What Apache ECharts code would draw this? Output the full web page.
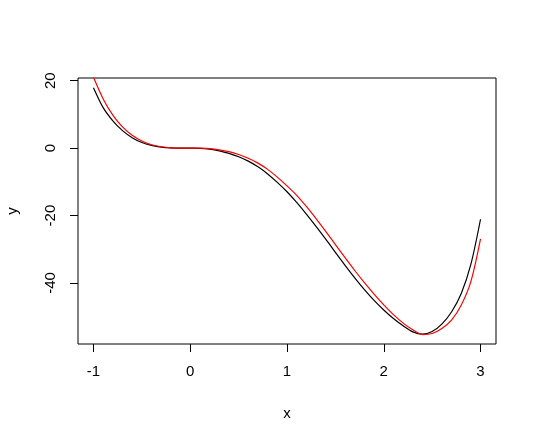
<!DOCTYPE html>
<html>
<head>
<meta charset="utf-8">
<script src="https://cdn.jsdelivr.net/npm/echarts@6/dist/echarts.min.js"></script>
<style>
html,body{margin:0;padding:0;background:#fff;}
#chart{width:537px;height:442px;}
</style>
</head>
<body>
<div id="chart"></div>
<script>
// x positions where the curves were read
var xValues = [-1.0,-0.9,-0.8,-0.7,-0.6,-0.5,-0.4,-0.3,-0.2,-0.1,0.0,0.1,0.2,0.3,0.4,0.5,0.6,0.7,0.8,0.9,1.0,1.1,1.2,1.3,1.4,1.5,1.6,1.7,1.8,1.9,2.0,2.1,2.2,2.3,2.4,2.5,2.6,2.7,2.8,2.9,3.0];
// black curve
var blackY = [17.9,12.0,8.1,5.2,3.1,1.65,0.8,0.3,0.08,0.01,0.0,-0.05,-0.3,-0.8,-1.55,-2.55,-3.85,-5.55,-7.65,-10.15,-12.95,-16.1,-19.55,-23.2,-27.0,-30.9,-34.75,-38.45,-41.95,-45.15,-48.0,-50.55,-52.7,-54.5,-55.2,-54.4,-52.2,-48.6,-43.2,-34.5,-21.1];
// red curve
var redY = [21.0,14.6,9.8,6.3,3.8,2.1,1.0,0.4,0.1,0.02,0.0,-0.02,-0.15,-0.5,-1.05,-1.9,-3.0,-4.45,-6.3,-8.6,-11.2,-14.0,-17.3,-20.9,-24.7,-28.6,-32.5,-36.3,-39.9,-43.3,-46.5,-49.4,-51.9,-53.9,-55.3,-55.0,-53.5,-51.0,-46.6,-39.6,-26.9];
// tick labels
var xTicks = [-1,0,1,2,3];
var yTicks = [-40,-20,0,20];

function pairs(xs, ys){ return xs.map(function(x,i){ return [x, ys[i]]; }); }

var font = 'Liberation Sans, Arial, Helvetica, sans-serif';
var chart = echarts.init(document.getElementById('chart'), null, {renderer:'canvas'});
chart.setOption({
  animation:false,
  backgroundColor:'#ffffff',
  grid:{left:78, right:41, top:78, bottom:98, show:true, borderColor:'#000', borderWidth:1,
        backgroundColor:'transparent', containLabel:false, outerBoundsMode:'none'},
  xAxis:{
    type:'value', min:-1.16, max:3.16,
    name:'x', nameLocation:'middle', nameGap:62,
    nameTextStyle:{fontFamily:font, fontSize:15, color:'#000'},
    axisLine:{show:false, onZero:false},
    splitLine:{show:false},
    axisTick:{show:true, length:8, lineStyle:{color:'#000', width:1}, customValues:xTicks},
    axisLabel:{show:true, customValues:xTicks, margin:20, fontFamily:font, fontSize:15, color:'#000'}
  },
  yAxis:{
    type:'value', min:-58.1, max:20.8,
    name:'y', nameLocation:'middle', nameGap:58, nameRotate:90,
    nameTextStyle:{fontFamily:font, fontSize:15, color:'#000'},
    axisLine:{show:false, onZero:false},
    splitLine:{show:false},
    axisTick:{show:true, length:8, lineStyle:{color:'#000', width:1}, customValues:yTicks},
    axisLabel:{show:true, customValues:yTicks, rotate:90, margin:20, fontFamily:font, fontSize:15, color:'#000'}
  },
  series:[
    {type:'line', data:pairs(xValues, blackY), showSymbol:false, smooth:0.3, clip:true,
     lineStyle:{color:'#000000', width:1.2}},
    {type:'line', data:pairs(xValues, redY), showSymbol:false, smooth:0.3, clip:true,
     lineStyle:{color:'#ff0000', width:1.2}}
  ]
});
</script>
</body>
</html>
